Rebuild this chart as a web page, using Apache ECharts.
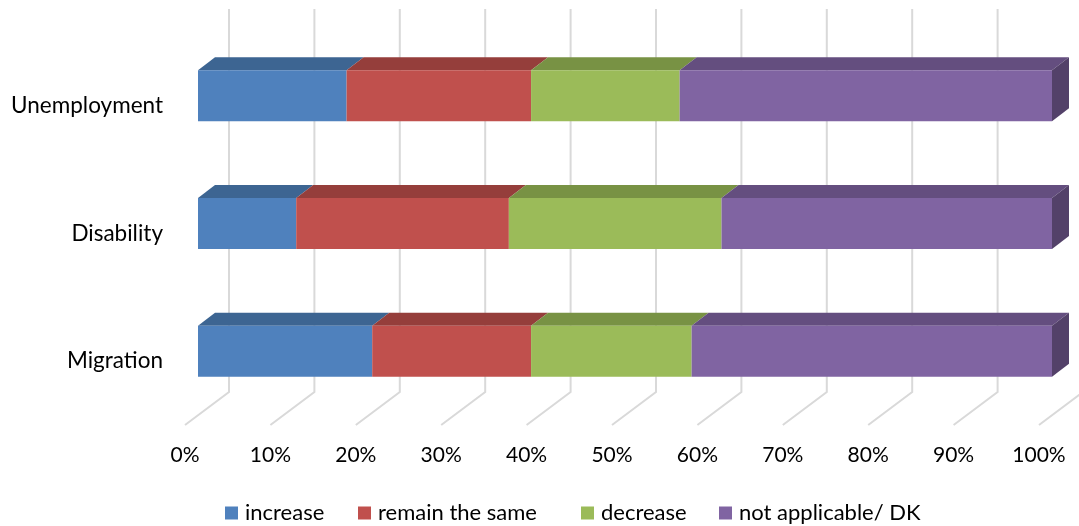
<!DOCTYPE html>
<html><head><meta charset="utf-8">
<script src="https://cdn.jsdelivr.net/npm/echarts@6/dist/echarts.min.js"></script>
<style>html,body{margin:0;padding:0;background:#fff}#c{width:1079px;height:526px}</style>
</head><body><div id="c"></div>
<script>
var categories = ['Unemployment', 'Disability', 'Migration'];
var seriesNames = ['increase', 'remain the same', 'decrease', 'not applicable/ DK'];
var increase = [17.4, 11.5, 20.4];
var remainSame = [21.6, 24.9, 18.6];
var decrease = [17.4, 24.9, 18.8];
var notApplicable = [43.6, 38.7, 42.2];
var xTicks = [0, 10, 20, 30, 40, 50, 60, 70, 80, 90, 100];

var frontColors = ['#4F81BD', '#C0504D', '#9BBB59', '#8064A2'];
var topColors = ['#3D6592', '#953E3B', '#789244', '#644E7F'];
var sideColors = ['#32537A', '#7C3331', '#637936', '#534169'];
var legendLefts = [225, 358, 581, 719];

var FONT = 'Lato';
var BAR_DX = 13, BAR_DY = -10;      // bar front plane offset from floor front
var DEPTH_DX = 17, DEPTH_DY = -13;  // bar depth
var WALL_DX = 44, WALL_DY = -33;    // back wall offset

var allValues = [increase, remainSame, decrease, notApplicable];
var series = [];

series.push({
  type: 'custom', name: '_grid', silent: true, z: 1, clip: false,
  data: xTicks.map(function (v) { return [v, 0]; }),
  renderItem: function (params, api) {
    var cs = params.coordSys;
    var x = api.coord([api.value(0), 0])[0];
    var yTop = cs.y, yBot = cs.y + cs.height;
    return {
      type: 'polyline',
      shape: { points: [[x + WALL_DX, yTop + WALL_DY], [x + WALL_DX, yBot + WALL_DY], [x, yBot]] },
      style: { stroke: '#D9D9D9', lineWidth: 2, fill: null }
    };
  }
});

allValues.forEach(function (vals, si) {
  var data = vals.map(function (v, ci) {
    var start = 0;
    for (var k = 0; k < si; k++) start += allValues[k][ci];
    return [start, start + v, ci];
  });
  series.push({
    type: 'custom', name: seriesNames[si], z: 2 + si, clip: false,
    itemStyle: { color: frontColors[si] },
    encode: { x: [0, 1], y: 2 },
    data: data,
    renderItem: function (params, api) {
      var p0 = api.coord([api.value(0), api.value(2)]);
      var p1 = api.coord([api.value(1), api.value(2)]);
      var band = api.size([0, 1])[1];
      var h = band * 0.4;
      var x0 = p0[0] + BAR_DX, x1 = p1[0] + BAR_DX;
      var yc = p0[1] + BAR_DY;
      var yt = yc - h / 2, yb = yc + h / 2;
      var children = [
        { type: 'polygon', shape: { points: [[x0, yt], [x1, yt], [x1 + DEPTH_DX, yt + DEPTH_DY], [x0 + DEPTH_DX, yt + DEPTH_DY]] },
          style: { fill: topColors[si] } },
        { type: 'rect', shape: { x: x0, y: yt, width: x1 - x0, height: h }, style: { fill: frontColors[si] } }
      ];
      if (si === allValues.length - 1) {
        children.push({ type: 'polygon', shape: { points: [[x1, yt], [x1 + DEPTH_DX, yt + DEPTH_DY], [x1 + DEPTH_DX, yb + DEPTH_DY], [x1, yb]] },
          style: { fill: sideColors[si] } });
      }
      return { type: 'group', children: children };
    }
  });
});

var legends = seriesNames.map(function (name, i) {
  return {
    data: [name], left: legendLefts[i], top: 502, padding: 0, icon: 'rect',
    itemWidth: 13, itemHeight: 13, selectedMode: false,
    textStyle: { color: '#000', fontSize: 22, fontFamily: FONT, padding: [0, 0, 0, 2] }
  };
});

var chart = echarts.init(document.getElementById('c'), null, { renderer: 'canvas' });
chart.setOption({
  animation: false,
  textStyle: { fontFamily: FONT },
  grid: { left: 185, top: 42, width: 854, height: 383 },
  xAxis: {
    type: 'value', min: 0, max: 100, interval: 10,
    axisLine: { show: false }, axisTick: { show: false }, splitLine: { show: false },
    axisLabel: { formatter: '{value}%', color: '#000', fontSize: 21, fontFamily: FONT, margin: 20 }
  },
  yAxis: {
    type: 'category', data: categories, inverse: true,
    axisLine: { show: false }, axisTick: { show: false }, splitLine: { show: false },
    axisLabel: { color: '#000', fontSize: 22.5, fontFamily: FONT, margin: 22, padding: [7, 0, 0, 0] }
  },
  legend: legends,
  series: series
});
</script></body></html>
